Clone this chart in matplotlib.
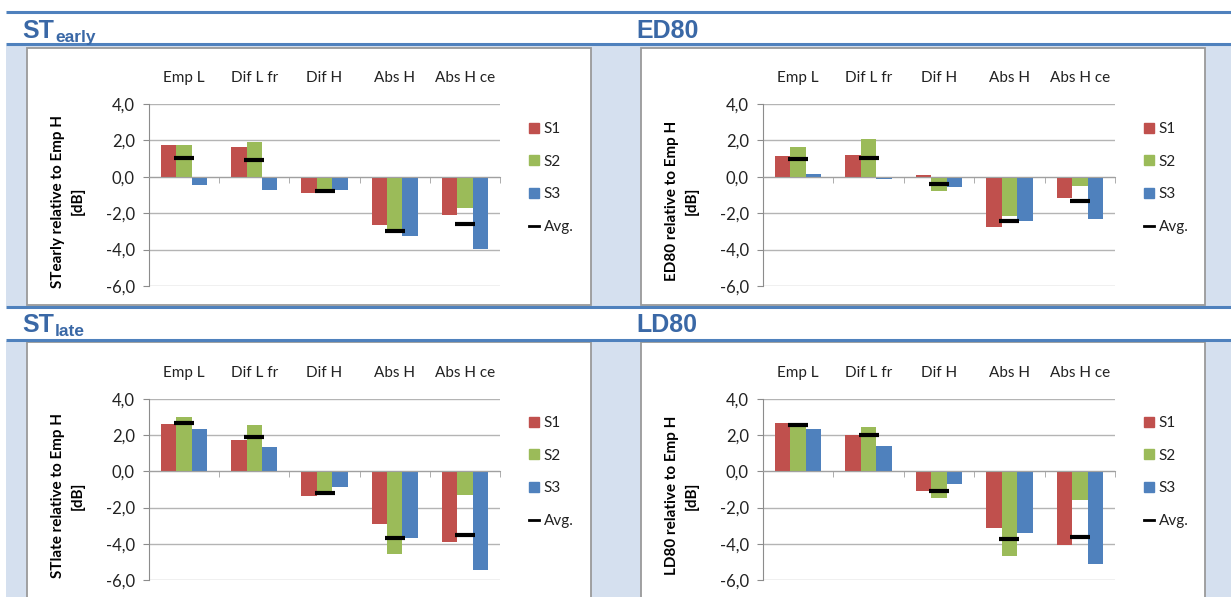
import matplotlib
matplotlib.use("Agg")
import matplotlib.pyplot as plt
import numpy as np
from matplotlib.patches import Rectangle, Patch
from matplotlib.lines import Line2D
from matplotlib.ticker import FuncFormatter

# data =========================================================
categories = ["Emp L", "Dif L fr", "Dif H", "Abs H", "Abs H ce"]
series_names = ["S1", "S2", "S3"]

st_early_s1 = [1.73, 1.65, -0.87, -2.67, -2.11]
st_early_s2 = [1.73, 1.93, -0.80, -2.93, -1.73]
st_early_s3 = [-0.45, -0.73, -0.73, -3.25, -3.96]
st_early_avg = [1.02, 0.95, -0.80, -2.96, -2.62]

ed80_s1 = [1.16, 1.20, 0.10, -2.75, -1.15]
ed80_s2 = [1.62, 2.07, -0.78, -2.18, -0.50]
ed80_s3 = [0.18, -0.13, -0.55, -2.42, -2.33]
ed80_avg = [1.00, 1.05, -0.40, -2.45, -1.31]

st_late_s1 = [2.61, 1.76, -1.34, -2.92, -3.90]
st_late_s2 = [3.01, 2.54, -1.31, -4.56, -1.29]
st_late_s3 = [2.32, 1.34, -0.88, -3.66, -5.42]
st_late_avg = [2.65, 1.89, -1.17, -3.68, -3.53]

ld80_s1 = [2.65, 2.02, -1.07, -3.10, -4.08]
ld80_s2 = [2.62, 2.44, -1.49, -4.65, -1.56]
ld80_s3 = [2.32, 1.43, -0.68, -3.38, -5.09]
ld80_avg = [2.54, 1.99, -1.07, -3.71, -3.60]

y_ticks = [-6, -4, -2, 0, 2, 4]

# estilo ======================================================
W, H = 1231, 597
COR_SERIES = ["#C0504D", "#9BBB59", "#4F81BD"]
AZUL_LINHA = "#4F81BD"
AZUL_TITULO = "#3A68A6"
AZUL_FUNDO = "#D5E0EF"
CINZA = "#8C8C8C"
FONTE = "Lato"

# layout em pixels: titulo, subscrito, ylabel, dados, caixa, eixo, y do titulo, legenda (x, y centro)
paineis = [
    ("ST", "early", "STearly relative to Emp H\n[dB]",
     (st_early_s1, st_early_s2, st_early_s3, st_early_avg),
     (27, 48, 591, 305), (149, 104, 500, 286), 38, (529, 178)),
    ("ED80", "", "ED80 relative to Emp H\n[dB]",
     (ed80_s1, ed80_s2, ed80_s3, ed80_avg),
     (641, 48, 1205, 305), (763, 104, 1115, 286), 38, (1144, 178)),
    ("ST", "late", "STlate relative to Emp H\n[dB]",
     (st_late_s1, st_late_s2, st_late_s3, st_late_avg),
     (27, 342, 591, 610), (149, 399, 500, 580), 332, (529, 472)),
    ("LD80", "", "LD80 relative to Emp H\n[dB]",
     (ld80_s1, ld80_s2, ld80_s3, ld80_avg),
     (641, 342, 1205, 610), (763, 399, 1115, 580), 332, (1144, 472)),
]


def ret_fig(x0, y0, x1, y1):
    return [x0 / W, 1 - y1 / H, (x1 - x0) / W, (y1 - y0) / H]


fig = plt.figure(figsize=(W / 100, H / 100), dpi=100)
fig.patch.set_facecolor("white")

# fundo (faixas azuis, caixas brancas) ==========================
bg = fig.add_axes([0, 0, 1, 1], zorder=0)
bg.set_xlim(0, W)
bg.set_ylim(H, 0)
bg.axis("off")
bg.add_patch(Rectangle((6, 46), W - 6, 260, color=AZUL_FUNDO, lw=0))
bg.add_patch(Rectangle((6, 341), W - 6, H - 341, color=AZUL_FUNDO, lw=0))
for y in [12, 44, 307, 340]:
    bg.plot([6, W], [y, y], color=AZUL_LINHA, lw=2.2, solid_capstyle="butt")

x = np.arange(len(categories))
largura = 0.219

for titulo, sub, ylabel, dados, caixa, eixo, y_tit, leg_pos in paineis:
    bx0, by0, bx1, by1 = caixa
    bg.add_patch(Rectangle((bx0, by0), bx1 - bx0, by1 - by0, facecolor="white",
                           edgecolor="#9A9A9A", lw=1.3))
    bg.text(bx0 - 5, y_tit, titulo, fontsize=18, fontweight="bold", color=AZUL_TITULO,
            family="Liberation Sans", va="baseline", ha="left")
    if sub:
        bg.text(bx0 + 28, y_tit + 4, sub, fontsize=12.5, fontweight="bold", color=AZUL_TITULO,
                family="Liberation Sans", va="baseline", ha="left")

    ex0, ey0, ex1, ey1 = eixo
    ax = fig.add_axes(ret_fig(ex0, ey0, ex1, ey1), zorder=2)
    ax.patch.set_alpha(0)
    s1, s2, s3, media = dados
    for i, serie in enumerate([s1, s2, s3]):
        ax.bar(x + (i - 1) * largura, serie, width=largura, color=COR_SERIES[i],
               label=series_names[i], zorder=2)
    ax.plot(x, media, ls="none", marker="_", ms=13.7, mew=3, color="black", zorder=4)

    ax.set_xlim(-0.5, len(categories) - 0.5)
    ax.set_ylim(-6, 4)
    ax.set_yticks(y_ticks)
    ax.yaxis.set_major_formatter(FuncFormatter(lambda v, p: f"{v:.1f}".replace(".", ",")))
    ax.grid(axis="y", color="#B4B4B4", lw=1.0, zorder=0)
    ax.set_axisbelow(True)

    for lado in ["top", "right"]:
        ax.spines[lado].set_visible(False)
    ax.spines["left"].set_color(CINZA)
    ax.spines["bottom"].set_color("#A0A0A0")
    ax.spines["bottom"].set_position(("data", 0))
    ax.spines["bottom"].set_zorder(3)

    ax.set_xticks(x)
    ax.set_xticklabels(categories)
    ax.set_xticks(np.arange(len(categories)) + 0.5, minor=True)
    ax.tick_params(axis="x", which="major", length=0, labeltop=True, labelbottom=False,
                   top=False, bottom=False, pad=14, labelsize=11, labelcolor="#222222")
    ax.tick_params(axis="x", which="minor", direction="out", length=4, color="#A0A0A0",
                   bottom=True, top=False)
    ax.tick_params(axis="y", length=4.3, color=CINZA, pad=6, labelsize=12, labelcolor="#222222")
    for t in ax.get_xticklabels() + ax.get_yticklabels():
        t.set_family(FONTE)

    fig.text((ex0 - 81) / W, 1 - ((ey0 + ey1) / 2 + 6) / H, ylabel, rotation=90,
             ha="center", va="center", multialignment="center", fontsize=11,
             fontweight="bold", family=FONTE, linespacing=1.5)

    handles = [Patch(color=c) for c in COR_SERIES]
    handles.append(Line2D([], [], color="black", lw=2))
    lx, ly = leg_pos
    leg = ax.legend(handles, series_names + ["Avg."], loc="center left",
                    bbox_to_anchor=((lx - ex0) / (ex1 - ex0), (ey1 - ly) / (ey1 - ey0)),
                    frameon=False, borderpad=0, borderaxespad=0, handlelength=0.65,
                    handleheight=0.65, handletextpad=0.3, labelspacing=1.22,
                    prop={"family": FONTE, "size": 11})
    for t in leg.get_texts():
        t.set_color("#222222")

fig.savefig("out.png", dpi=100)
